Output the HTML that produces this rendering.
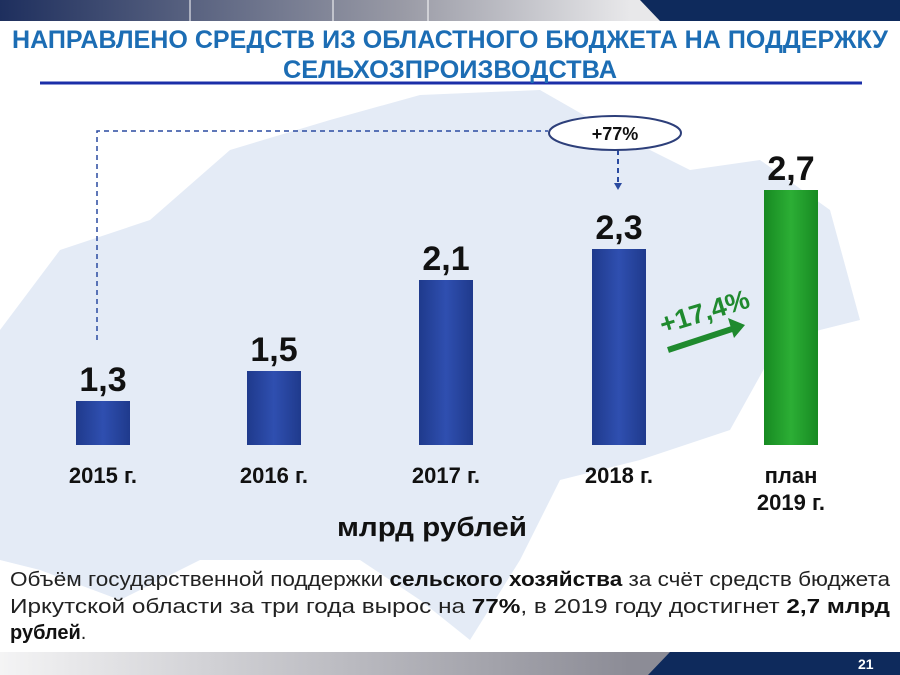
<!DOCTYPE html>
<html><head><meta charset="utf-8"><style>
body{margin:0}
#p{position:relative;width:900px;height:675px;overflow:hidden;background:#fff;font-family:"Liberation Sans",sans-serif}
svg text{font-family:"Liberation Sans",sans-serif}
.bar{position:absolute;width:54px;background:linear-gradient(90deg,#1f3a8c,#2f4fb0 50%,#1f3a8c)}
</style></head><body><div id="p">
<svg width="900" height="675" style="position:absolute;left:0;top:0">
<defs>
<linearGradient id="tg" x1="0" x2="1"><stop offset="0" stop-color="#1e2f5e"/><stop offset="0.45" stop-color="#9a9ba6"/><stop offset="0.7" stop-color="#e8e8ea"/></linearGradient>
<linearGradient id="bg" x1="0" x2="1"><stop offset="0" stop-color="#f4f4f5"/><stop offset="0.7" stop-color="#8c8c96"/></linearGradient>
</defs>
<path d="M0,330 L60,250 L150,220 L230,150 L330,120 L420,95 L540,90 L610,130 L690,170 L760,160 L830,210 L860,320 L780,340 L730,430 L640,460 L560,480 L520,560 L470,640 L420,600 L360,560 L200,560 L120,600 L40,570 L0,560Z" fill="#e4ebf6"/>
<rect x="0" y="0" width="900" height="21" fill="url(#tg)"/>
<polygon points="640,0 900,0 900,21 660,21" fill="#0e2a5c"/>
<line x1="190" y1="0" x2="190" y2="21" stroke="#fff"/>
<line x1="333" y1="0" x2="333" y2="21" stroke="#fff"/>
<line x1="428" y1="0" x2="428" y2="21" stroke="#fff"/>
<line x1="40" y1="83" x2="862" y2="83" stroke="#1b2fa8" stroke-width="3"/>
<rect x="0" y="652" width="900" height="23" fill="url(#bg)"/>
<polygon points="670,652 900,652 900,675 648,675" fill="#0e2a5c"/>
<polyline points="97,340 97,131 548,131" fill="none" stroke="#2a4aa0" stroke-width="1.5" stroke-dasharray="5,4"/>
<line x1="618" y1="150" x2="618" y2="185" stroke="#2a4aa0" stroke-width="2" stroke-dasharray="5,4"/>
<polygon points="614,183 622,183 618,190" fill="#2a4aa0"/>
<ellipse cx="615" cy="133" rx="66" ry="17" fill="#fff" stroke="#2d3f7a" stroke-width="2"/>
<text x="615" y="140" text-anchor="middle" font-weight="bold" font-size="18" fill="#111">+77%</text>
<line x1="668" y1="350" x2="735" y2="328" stroke="#1f8a2e" stroke-width="6"/>
<polygon points="745,325 728,318 734,338" fill="#1f8a2e"/>
<text x="663" y="334" transform="rotate(-17 663 334)" font-weight="bold" font-size="27" fill="#1f8a2e">+17,4%</text>
<g font-weight="bold" font-size="25" fill="#1c6db4">
<text x="12" y="48" textLength="876" lengthAdjust="spacingAndGlyphs">НАПРАВЛЕНО СРЕДСТВ ИЗ ОБЛАСТНОГО БЮДЖЕТА НА ПОДДЕРЖКУ</text>
<text x="283" y="78" textLength="334" lengthAdjust="spacingAndGlyphs">СЕЛЬХОЗПРОИЗВОДСТВА</text>
</g>
<g font-weight="bold" font-size="34" fill="#111" text-anchor="middle">
<text x="103" y="391">1,3</text>
<text x="274" y="361">1,5</text>
<text x="446" y="270">2,1</text>
<text x="619" y="239">2,3</text>
<text x="791" y="180">2,7</text>
</g>
<g font-weight="bold" font-size="22" fill="#111" text-anchor="middle">
<text x="103" y="483">2015 г.</text>
<text x="274" y="483">2016 г.</text>
<text x="446" y="483">2017 г.</text>
<text x="619" y="483">2018 г.</text>
<text x="791" y="483">план</text>
<text x="791" y="510">2019 г.</text>
<text x="337" y="536" text-anchor="start" font-size="27" textLength="190" lengthAdjust="spacingAndGlyphs">млрд рублей</text>
</g>
<g font-size="20" fill="#222">
<text x="10" y="586" textLength="880" lengthAdjust="spacingAndGlyphs">Объём государственной поддержки <tspan font-weight="bold" fill="#111">сельского хозяйства</tspan> за счёт средств бюджета</text>
<text x="10" y="613" textLength="880" lengthAdjust="spacingAndGlyphs">Иркутской области за три года вырос на <tspan font-weight="bold" fill="#111">77%</tspan>, в 2019 году достигнет <tspan font-weight="bold" fill="#111">2,7 млрд</tspan></text>
<text x="10" y="639"><tspan font-weight="bold" fill="#111">рублей</tspan>.</text>
</g>
<text x="858" y="669" font-weight="bold" font-size="14" fill="#fff">21</text>
</svg>
<div class="bar" style="left:76px;top:401px;height:44px"></div>
<div class="bar" style="left:247px;top:371px;height:74px"></div>
<div class="bar" style="left:419px;top:280px;height:165px"></div>
<div class="bar" style="left:592px;top:249px;height:196px"></div>
<div class="bar" style="left:764px;top:190px;height:255px;background:linear-gradient(90deg,#178a22,#2cae35 50%,#178a22)"></div>
</div></body></html>
